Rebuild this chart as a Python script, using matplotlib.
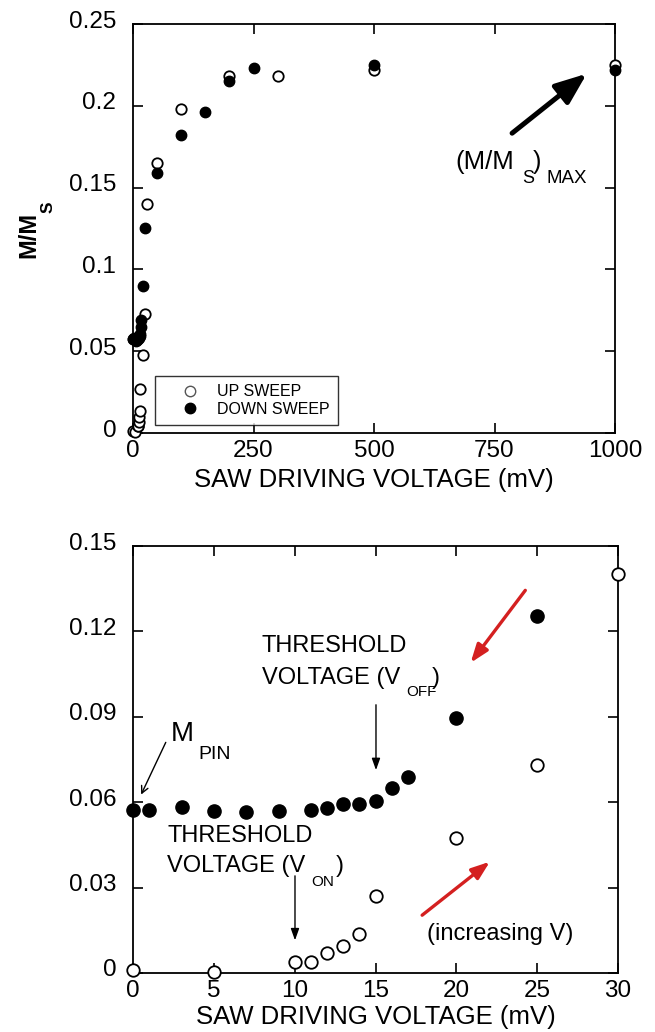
import numpy as np
import matplotlib
matplotlib.use("Agg")
from matplotlib import pyplot as plt
from matplotlib.transforms import ScaledTranslation

plt.rcParams['font.family'] = ['Liberation Sans', 'DejaVu Sans']

# up sweep (increasing V)
up_v = [0, 5, 10, 11, 12, 13, 14, 15, 20, 25, 30, 50, 100, 200, 300, 500, 1000]
up_m = [0.001, 0.0005, 0.004, 0.004, 0.007, 0.0095, 0.0137, 0.027, 0.0475, 0.073,
        0.140, 0.165, 0.198, 0.218, 0.218, 0.222, 0.225]

# down sweep (decreasing V)
down_v = [1000, 500, 250, 200, 150, 100, 50, 25, 20, 17, 16, 15, 14, 13, 12, 11, 9, 7, 5, 3, 1, 0]
down_m = [0.222, 0.225, 0.223, 0.215, 0.196, 0.182, 0.159, 0.1254, 0.0896, 0.0689, 0.065,
          0.0605, 0.0594, 0.0594, 0.058, 0.0573, 0.0569, 0.0565, 0.0569, 0.0583, 0.0573, 0.0573]

W, H = 655, 1032
fig = plt.figure(figsize=(W / 100, H / 100), dpi=100)

def box(l, t, r, b):
    return [l / W, 1 - b / H, (r - l) / W, (b - t) / H]

# text placed by pixel position (left, baseline)
def ptext(x, y, s, size, **kw):
    return fig.text(x / W, 1 - y / H, s, fontsize=size, ha='left', va='baseline', **kw)

ax1 = fig.add_axes(box(133, 24, 615, 433))
ax2 = fig.add_axes(box(133, 546, 618, 973))

up_shift = ScaledTranslation(0, 5 / 100, fig.dpi_scale_trans)
for ax in (ax1, ax2):
    ax.tick_params(direction='in', top=True, right=True, labelsize=17.5, length=7, width=1.2)
    ax.tick_params(axis='y', pad=12)
    ax.tick_params(axis='x', pad=5)
    for s in ax.spines.values():
        s.set_linewidth(1.3)

# top panel
ax1.plot(up_v, up_m, 'o', mfc='white', mec='black', mew=1.3, ms=7.5, label='UP SWEEP', clip_on=False, zorder=3)
ax1.plot(down_v, down_m, 'o', mfc='black', mec='black', ms=7.5, label='DOWN SWEEP', clip_on=False, zorder=3)
ax1.set_xlim(0, 1000)
ax1.set_ylim(0, 0.25)
ax1.set_xticks([0, 250, 500, 750, 1000])
ax1.set_xticklabels(['0', '250', '500', '750', '1000'])
ax1.set_yticks([0, 0.05, 0.1, 0.15, 0.2, 0.25])
ax1.set_yticklabels(['0', '0.05', '0.1', '0.15', '0.2', '0.25'])
ax1.set_xlabel('SAW DRIVING VOLTAGE (mV)', fontsize=18.5, labelpad=4)
leg = ax1.legend(loc='lower left', bbox_to_anchor=(0.046, 0.02), borderaxespad=0, fontsize=11.5,
                 frameon=True, fancybox=False, edgecolor='black', handletextpad=0.1, borderpad=0.5,
                 labelspacing=0.15, handlelength=3.3)
leg.get_frame().set_linewidth(1.0)
leg.legend_handles[0].set_markeredgecolor('#555555')
leg.legend_handles[0].set_markeredgewidth(1.0)
ax1.annotate('', xy=(946, 0.2207), xytext=(782, 0.1822),
             arrowprops=dict(arrowstyle='-|>,head_length=1.9,head_width=0.75', color='black', lw=3.6))

# y label M/M_S (rotated pieces)
fig.text(35 / W, 1 - 258 / H, 'M/M', fontsize=17, fontweight='bold', rotation=90,
         rotation_mode='anchor', ha='left', va='baseline')
fig.text(53 / W, 1 - 213 / H, 'S', fontsize=12.5, fontweight='bold', rotation=90,
         rotation_mode='anchor', ha='left', va='baseline')

# (M/M_S)_MAX
ptext(455, 169, '(M/M', 18.5)
ptext(522, 183, 'S', 13)
ptext(533, 169, ')', 18)
ptext(546, 183, 'MAX', 13.5)

# bottom panel (zoom on low voltages)
ax2.plot(up_v, up_m, 'o', mfc='white', mec='black', mew=1.3, ms=9, clip_on=False, zorder=3)
ax2.plot(down_v, down_m, 'o', mfc='black', mec='black', ms=9.5, clip_on=False, zorder=3)
ax2.set_xlim(0, 30)
ax2.set_ylim(0, 0.15)
ax2.set_xticks([0, 5, 10, 15, 20, 25, 30])
ax2.set_yticks([0, 0.03, 0.06, 0.09, 0.12, 0.15])
ax2.set_yticklabels(['0', '0.03', '0.06', '0.09', '0.12', '0.15'])
ax2.set_xlabel('SAW DRIVING VOLTAGE (mV)', fontsize=18.5, labelpad=2)

for ax in (ax1, ax2):
    for lab in ax.get_yticklabels():
        lab.set_transform(lab.get_transform() + up_shift)

# M_PIN
ptext(171, 741, 'M', 20)
ptext(198, 759, 'PIN', 14)
ax2.annotate('', xy=(0.43, 0.0618), xytext=(2.1, 0.0819),
             arrowprops=dict(arrowstyle='->,head_length=0.5,head_width=0.25', color='black', lw=1.0))

# threshold V_ON
ptext(167, 842, 'THRESHOLD', 17)
ptext(167, 872, 'VOLTAGE (V', 17)
ptext(311, 886, 'ON', 11)
ptext(336, 872, ')', 17)
ax2.annotate('', xy=(10.02, 0.0105), xytext=(10.02, 0.0351),
             arrowprops=dict(arrowstyle='-|>,head_length=0.7,head_width=0.25', color='black', lw=1.0))

# threshold V_OFF
ptext(262, 652, 'THRESHOLD', 17)
ptext(262, 684, 'VOLTAGE (V', 17)
ptext(406, 696, 'OFF', 11)
ptext(432, 684, ')', 17)
ax2.annotate('', xy=(15.03, 0.0703), xytext=(15.03, 0.0952),
             arrowprops=dict(arrowstyle='-|>,head_length=0.7,head_width=0.25', color='black', lw=1.0))

# red sweep-direction arrows
ax2.annotate('', xy=(20.78, 0.1082), xytext=(24.37, 0.1352),
             arrowprops=dict(arrowstyle='-|>,head_length=1.1,head_width=0.4', color='#d42020', lw=2.4))
ax2.annotate('', xy=(22.21, 0.0397), xytext=(17.75, 0.0197),
             arrowprops=dict(arrowstyle='-|>,head_length=1.1,head_width=0.4', color='#d42020', lw=2.4))
ptext(427, 940, '(increasing V)', 17)

plt.savefig('out.png', dpi=100)
